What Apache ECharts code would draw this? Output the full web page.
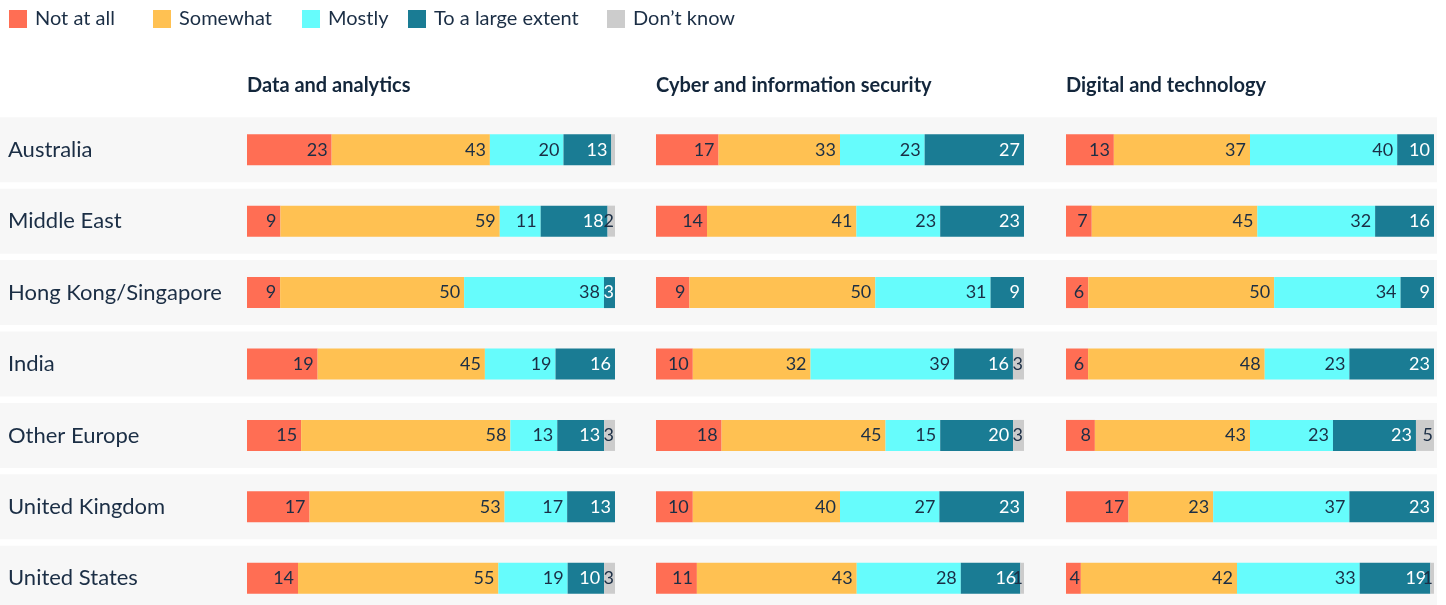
<!DOCTYPE html>
<html>
<head>
<meta charset="utf-8">
<script src="https://cdn.jsdelivr.net/npm/echarts@6/dist/echarts.min.js"></script>
<style>
  html, body { margin: 0; padding: 0; background: #ffffff; overflow: hidden; }
  #chart { width: 1446px; height: 640px; }
</style>
</head>
<body>
<div id="chart"></div>
<script>
// Rows, answer categories and panels
const regions = ['Australia', 'Middle East', 'Hong Kong/Singapore', 'India', 'Other Europe', 'United Kingdom', 'United States'];
const responses = ['Not at all', 'Somewhat', 'Mostly', 'To a large extent', 'Don’t know'];
const panelTitles = ['Data and analytics', 'Cyber and information security', 'Digital and technology'];

// Data and analytics (% of respondents, per region)
const daNotAtAll   = [23,  9,  9, 19, 15, 17, 14];
const daSomewhat   = [43, 59, 50, 45, 58, 53, 55];
const daMostly     = [20, 11, 38, 19, 13, 17, 19];
const daLarge      = [13, 18,  3, 16, 13, 13, 10];
const daDontKnow   = [ 1,  2,  0,  0,  3,  0,  3];

// Cyber and information security
const cyNotAtAll   = [17, 14,  9, 10, 18, 10, 11];
const cySomewhat   = [33, 41, 50, 32, 45, 40, 43];
const cyMostly     = [23, 23, 31, 39, 15, 27, 28];
const cyLarge      = [27, 23,  9, 16, 20, 23, 16];
const cyDontKnow   = [ 0,  0,  0,  3,  3,  0,  1];

// Digital and technology
const dtNotAtAll   = [13,  7,  6,  6,  8, 17,  4];
const dtSomewhat   = [37, 45, 50, 48, 43, 23, 42];
const dtMostly     = [40, 32, 34, 23, 23, 37, 33];
const dtLarge      = [10, 16,  9, 23, 23, 23, 19];
const dtDontKnow   = [ 0,  0,  0,  0,  5,  0,  1];

// Segments too thin to carry a value label (panel index, region)
const unlabeled = [[0, 'Australia']];

const panelData = [
  [daNotAtAll, daSomewhat, daMostly, daLarge, daDontKnow],
  [cyNotAtAll, cySomewhat, cyMostly, cyLarge, cyDontKnow],
  [dtNotAtAll, dtSomewhat, dtMostly, dtLarge, dtDontKnow]
];

const colors = ['#ff6e54', '#ffc152', '#66fcfc', '#1a7c94', '#cccccc'];
const labelColors = ['#1b2e45', '#1b2e45', '#1b2e45', '#ffffff', '#1b2e45'];
const textColor = '#1b2e45';
const font = 'Lato, "Noto Sans", sans-serif';

const panelLeft = [247, 656, 1066];
const panelWidth = 368;
const gridTop = 114;
const gridHeight = 500;

const grids = [];
const xAxes = [];
const yAxes = [];
const series = [];
const titles = [];

// Full-width row bands behind everything
grids.push({ left: 0, width: 1437, top: gridTop, height: gridHeight });
xAxes.push({ gridIndex: 0, type: 'value', min: 0, max: 1, show: false });
yAxes.push({
  gridIndex: 0, type: 'category', data: regions, inverse: true,
  axisLine: { show: false }, axisTick: { show: false }, splitLine: { show: false },
  axisLabel: { inside: true, margin: 8, color: textColor, fontSize: 22, fontFamily: font }
});
series.push({
  type: 'bar', xAxisIndex: 0, yAxisIndex: 0, silent: true, z: 0,
  barWidth: 65, itemStyle: { color: '#f7f7f7' },
  data: regions.map(() => 1)
});

panelData.forEach((sets, p) => {
  const g = p + 1;
  grids.push({ left: panelLeft[p], width: panelWidth, top: gridTop, height: gridHeight });
  xAxes.push({ gridIndex: g, type: 'value', min: 0, max: 100, show: false });
  yAxes.push({ gridIndex: g, type: 'category', data: regions, inverse: true, show: false });
  titles.push({
    text: panelTitles[p], left: panelLeft[p], top: 76, padding: 0,
    textStyle: { color: '#13263b', fontSize: 20, fontWeight: 'bold', fontFamily: font }
  });
  // each bar fills its panel: the stacked shares are scaled to the row total
  const totals = regions.map((_, r) => sets.reduce((s, arr) => s + arr[r], 0));
  sets.forEach((vals, k) => {
    series.push({
      name: responses[k], type: 'bar', stack: 'panel' + p,
      xAxisIndex: g, yAxisIndex: g, barWidth: 31, z: 2,
      itemStyle: { color: colors[k] },
      label: {
        show: true, position: 'insideRight', distance: 4,
        color: labelColors[k], fontSize: 18, fontFamily: font,
        formatter: (prm) => {
          const raw = vals[prm.dataIndex];
          if (!raw) return '';
          if (k === 4 && unlabeled.some(u => u[0] === p && u[1] === regions[prm.dataIndex])) return '';
          return String(raw);
        }
      },
      // narrow segments keep their number tight against the segment's right edge
      data: vals.map((v, r) => ({
        value: v / totals[r] * 100,
        label: v <= 5 ? { distance: 1 } : undefined
      }))
    });
  });
});

// One legend block per answer so each key sits at its own place in the top row
const legendLeft = [9, 153, 302, 408, 607];
const legends = responses.map((name, i) => ({
  left: legendLeft[i], top: 9, padding: 0,
  itemWidth: 18, itemHeight: 18, icon: 'rect', data: [name],
  textStyle: { color: textColor, fontSize: 20, fontFamily: font, padding: [0, 0, 0, 3] },
  itemGap: 0
}));

const chart = echarts.init(document.getElementById('chart'), null, { renderer: 'canvas' });
chart.setOption({
  animation: false,
  color: colors,
  title: titles,
  legend: legends,
  grid: grids,
  xAxis: xAxes,
  yAxis: yAxes,
  series: series
});
</script>
</body>
</html>
